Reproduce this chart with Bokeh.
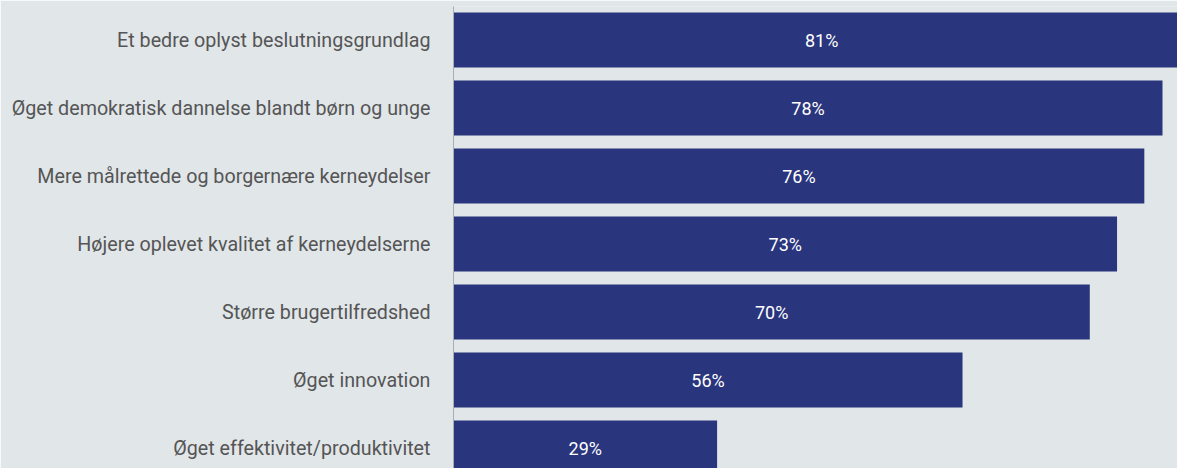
from bokeh.plotting import figure
from bokeh.models import Range1d, FixedTicker, ColumnDataSource, LabelSet
from bokeh.core.properties import value
from bokeh.embed import file_html
from bokeh.resources import INLINE

categories = [
    "Et bedre oplyst beslutningsgrundlag",
    "Øget demokratisk dannelse blandt børn og unge",
    "Mere målrettede og borgernære kerneydelser",
    "Højere oplevet kvalitet af kerneydelserne",
    "Større brugertilfredshed",
    "Øget innovation",
    "Øget effektivitet/produktivitet",
]
values = [81, 78, 76, 73, 70, 56, 29]
value_labels = [f"{v}%" for v in values]

BG = "#e1e6e9"
BAR = "#29357d"

pos = list(range(len(categories)))
src = ColumnDataSource(dict(y=pos, v=values, half=[v / 2 for v in values], lab=value_labels))

p = figure(width=1177, height=468, output_backend="svg", toolbar_location=None,
           x_range=Range1d(0, 79.65), y_range=Range1d(6.301, -0.493),
           min_border_left=453, min_border_right=0, min_border_top=6, min_border_bottom=0)
p.background_fill_color = BG
p.border_fill_color = BG
p.outline_line_color = None
p.grid.grid_line_color = None
p.xaxis.visible = False

p.hbar(y="y", right="v", left=0, height=0.81, source=src, color=BAR, line_color=None)
p.add_layout(LabelSet(x="half", y="y", text="lab", source=src, text_color="white",
                      text_font=value("Roboto"), text_font_size="18px", text_align="center",
                      text_baseline="middle"))

ya = p.yaxis[0]
ya.ticker = FixedTicker(ticks=pos)
ya.major_label_overrides = {i: c for i, c in enumerate(categories)}
ya.major_tick_line_color = None
ya.minor_tick_line_color = None
ya.axis_line_color = "#a9adb0"
ya.major_label_standoff = 17
ya.major_label_text_font = "Roboto"
ya.major_label_text_font_size = "19.7px"
ya.major_label_text_color = "#555555"

open("out.html", "w").write(file_html(p, INLINE))
